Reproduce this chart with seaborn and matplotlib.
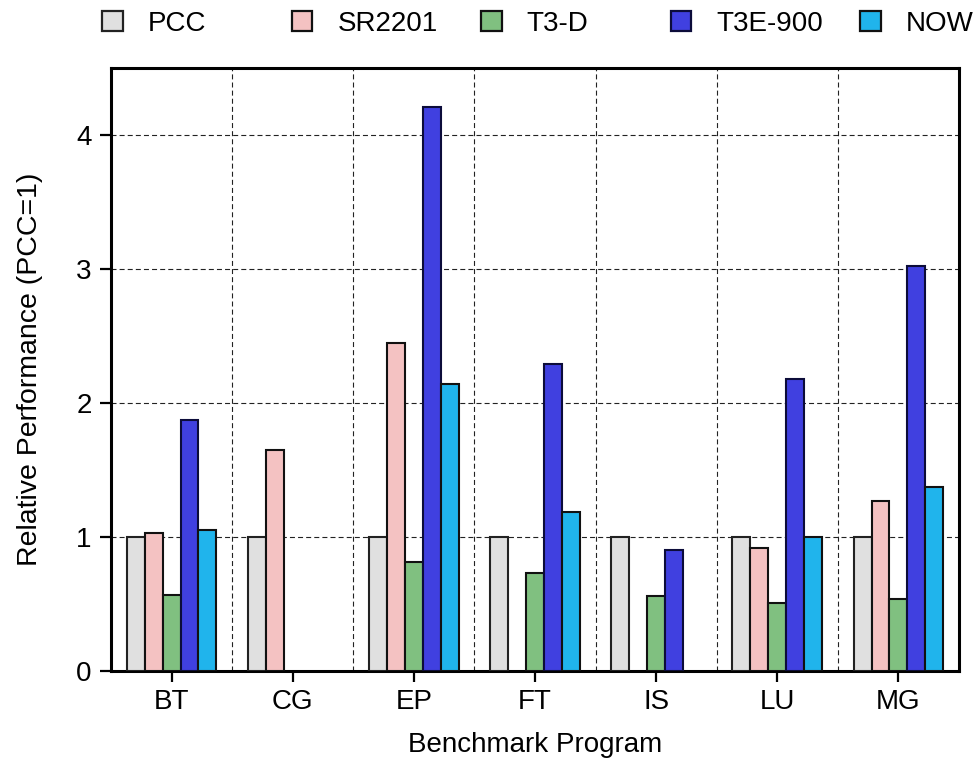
import numpy as np
import pandas as pd
import seaborn as sns
import matplotlib.pyplot as plt
from matplotlib.patches import Patch

benchmarks = ["BT", "CG", "EP", "FT", "IS", "LU", "MG"]
machines = ["PCC", "SR2201", "T3-D", "T3E-900", "NOW"]

pcc = [1.0, 1.0, 1.0, 1.0, 1.0, 1.0, 1.0]
sr2201 = [1.03, 1.65, 2.45, np.nan, np.nan, 0.92, 1.27]
t3d = [0.57, np.nan, 0.81, 0.73, 0.56, 0.51, 0.54]
t3e900 = [1.87, np.nan, 4.21, 2.29, 0.90, 2.18, 3.02]
now = [1.05, np.nan, 2.14, 1.19, np.nan, 1.00, 1.37]

colors = ["#e0e0e0", "#f4c2c2", "#80c080", "#4040e0", "#20b4ec"]
edges = ["#222222", "#111111", "#111111", "#0c0c3a", "#111111"]

rows = []
for m, vals in zip(machines, [pcc, sr2201, t3d, t3e900, now]):
    for b, v in zip(benchmarks, vals):
        rows.append({"Benchmark": b, "Machine": m, "Value": v})
df = pd.DataFrame(rows).dropna()

sns.set_style("white")
plt.rcParams["font.family"] = ["Liberation Sans", "DejaVu Sans"]
plt.rcParams.update({
    "text.color": "black", "axes.labelcolor": "black",
    "xtick.color": "black", "ytick.color": "black",
    "xtick.bottom": True, "ytick.left": True,
})

FS = 20

fig = plt.figure(figsize=(9.8, 7.76), dpi=100)
ax = fig.add_axes([0.1133, 0.1353, 0.8653, 0.7771])

sns.barplot(data=df, x="Benchmark", y="Value", hue="Machine",
            order=benchmarks, hue_order=machines, palette=colors,
            saturation=1, width=0.74, gap=0, errorbar=None, legend=False,
            linewidth=1.5, edgecolor="#111111", ax=ax, zorder=3)

# per-series edge colours
for cont, ec in zip(ax.containers, edges):
    for p in cont.patches:
        p.set_edgecolor(ec)

n_b = len(benchmarks)
ax.set_xlim(-0.5, n_b - 0.5)
ax.set_ylim(0, 4.5)
ax.set_yticks([0, 1, 2, 3, 4])
ax.set_xticks(range(n_b))
ax.set_xticks(np.arange(0.5, n_b - 1, 1.0), minor=True)

ax.grid(False)
dash = (0, (4.5, 2.8))
ax.yaxis.grid(True, which="major", linestyle=dash, color="#222222", linewidth=0.8, zorder=0)
ax.xaxis.grid(True, which="minor", linestyle=dash, color="#222222", linewidth=0.8, zorder=0)
ax.set_axisbelow(True)

for s in ax.spines.values():
    s.set_linewidth(2.2)
    s.set_color("black")

ax.tick_params(axis="both", which="major", direction="out", length=8, width=1.6,
               labelsize=FS)
ax.tick_params(axis="y", which="major", pad=6)
ax.tick_params(axis="x", which="major", pad=5)
ax.tick_params(axis="both", which="minor", length=0)

ax.set_xlabel("Benchmark Program", fontsize=FS, labelpad=12)
ax.set_ylabel("Relative Performance (PCC=1)", fontsize=20.5, labelpad=24)

# legend entries placed on a fixed column pitch across the top
x0_px, pitch_px, yc_px = 102, 189.5, 24
W, H = 980, 776
for i, (m, c, e) in enumerate(zip(machines, colors, edges)):
    h = Patch(facecolor=c, edgecolor=e, linewidth=1.6)
    fig.legend([h], [m], loc="center left",
               bbox_to_anchor=((x0_px + i * pitch_px) / W, 1 - yc_px / H),
               frameon=False, fontsize=FS, handlelength=0.75, handleheight=0.75,
               handletextpad=0.9, borderpad=0, borderaxespad=0)

fig.savefig("out.png", dpi=100)
